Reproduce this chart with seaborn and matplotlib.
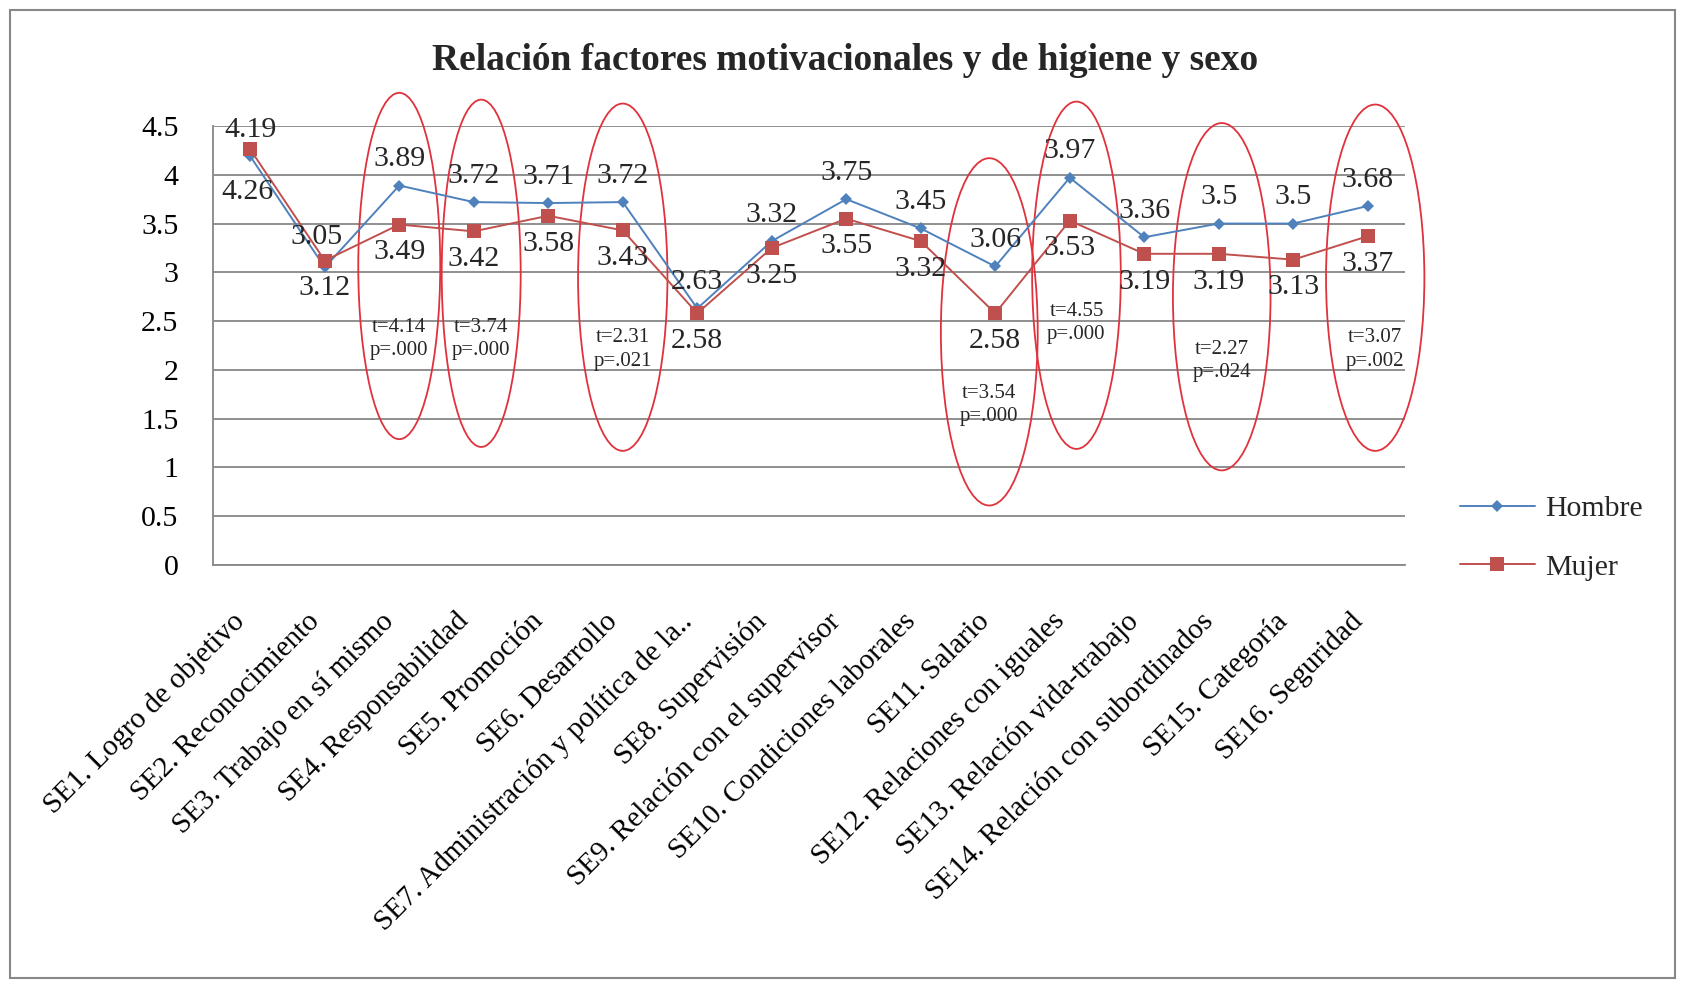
import numpy as np
import pandas as pd
import seaborn as sns
import matplotlib.pyplot as plt
from matplotlib.patches import Ellipse, Rectangle

# categorias del eje x
factores = ['SE1. Logro de objetivo', 'SE2. Reconocimiento',
            'SE3. Trabajo en sí mismo', 'SE4. Responsabilidad',
            'SE5. Promoción', 'SE6. Desarrollo',
            'SE7. Administración y política de la..', 'SE8. Supervisión',
            'SE9. Relación con el supervisor', 'SE10. Condiciones laborales',
            'SE11. Salario', 'SE12. Relaciones con iguales',
            'SE13. Relación vida-trabajo', 'SE14. Relación con subordinados',
            'SE15. Categoría', 'SE16. Seguridad']
hombre = [4.19, 3.05, 3.89, 3.72, 3.71, 3.72, 2.63, 3.32,
          3.75, 3.45, 3.06, 3.97, 3.36, 3.5, 3.5, 3.68]
mujer = [4.26, 3.12, 3.49, 3.42, 3.58, 3.43, 2.58, 3.25,
         3.55, 3.32, 2.58, 3.53, 3.19, 3.19, 3.13, 3.37]

# pruebas t marcadas con elipse
pruebas_idx = [2, 3, 5, 10, 11, 13, 15]
pruebas_txt = ['t=4.14\np=.000', 't=3.74\np=.000', 't=2.31\np=.021',
               't=3.54\np=.000', 't=4.55\np=.000', 't=2.27\np=.024',
               't=3.07\np=.002']

titulo = 'Relación factores motivacionales y de higiene y sexo'
y_ticks = [0, 0.5, 1, 1.5, 2, 2.5, 3, 3.5, 4, 4.5]

# geometria de las elipses (desplazamiento x, ancho, arriba, abajo)
elipse_geo = [(0.0, 1.10, 4.84, 1.29), (0.1, 1.06, 4.77, 1.21),
              (0.0, 1.20, 4.73, 1.17), (-0.08, 1.30, 4.17, 0.61),
              (0.09, 1.19, 4.75, 1.19), (0.04, 1.31, 4.53, 0.97),
              (0.1, 1.32, 4.72, 1.17)]
texto_y = [2.32, 2.32, 2.21, 1.64, 2.48, 2.09, 2.21]

# etiquetas movidas a mano en el original
ajuste_hombre = {1: (-6, 22)}
ajuste_mujer = {0: (-2, -31)}

AZUL = '#4F81BD'
ROJO = '#C0504D'
GRIS = '#878787'

sns.set_theme(style='white')
plt.rcParams['font.family'] = ['Liberation Serif', 'DejaVu Serif']

df = pd.DataFrame({
    'factor': factores * 2,
    'valor': hombre + mujer,
    'sexo': ['Hombre'] * len(factores) + ['Mujer'] * len(factores),
})

fig = plt.figure(figsize=(16.84, 9.84), dpi=100)
ax = fig.add_axes([213 / 1684, 1 - 565 / 984, (1405 - 213) / 1684,
                   (565 - 126) / 984])

sns.lineplot(data=df[df.sexo == 'Hombre'], x='factor', y='valor',
             color=AZUL, marker='D', markersize=6.5, markeredgewidth=0,
             linewidth=1.4, sort=False, ax=ax, label='Hombre')
sns.lineplot(data=df[df.sexo == 'Mujer'], x='factor', y='valor',
             color=ROJO, marker='s', markersize=10, markeredgewidth=0,
             linewidth=1.4, sort=False, ax=ax, label='Mujer')

ax.set_xlim(-0.5, len(factores) - 0.5)
ax.set_ylim(0, 4.5)
ax.set_yticks(y_ticks)
ax.set_yticklabels([f'{v:g}' for v in y_ticks])
ax.yaxis.grid(True, color=GRIS, linewidth=1.3)
ax.xaxis.grid(False)
ax.set_axisbelow(True)
for s in ['top', 'right']:
    ax.spines[s].set_visible(False)
for s in ['left', 'bottom']:
    ax.spines[s].set_color(GRIS)
    ax.spines[s].set_linewidth(1.3)
ax.set_xlabel('')
ax.set_ylabel('')
ax.tick_params(axis='y', length=0, pad=25, labelsize=21.5, colors='black')
ax.tick_params(axis='x', length=0, pad=31, labelsize=21, colors='black')
plt.setp(ax.get_xticklabels(), rotation=45, ha='right')

# etiquetas de datos
for i, v in enumerate(hombre):
    ax.annotate(f'{v:g}', (i, v), xytext=ajuste_hombre.get(i, (0, 19)),
                textcoords='offset points', ha='center', va='center',
                fontsize=21.5)
for i, v in enumerate(mujer):
    ax.annotate(f'{v:g}', (i, v), xytext=ajuste_mujer.get(i, (0, -20)),
                textcoords='offset points', ha='center', va='center',
                fontsize=21.5)

# elipses y pruebas t
for idx, txt, geo, ty in zip(pruebas_idx, pruebas_txt, elipse_geo, texto_y):
    dx, w, top, bot = geo
    e = Ellipse((idx + dx, (top + bot) / 2), w, top - bot, fill=False,
                edgecolor='#E0323C', linewidth=1.3, clip_on=False)
    ax.add_patch(e)
    ax.text(idx + dx, ty, txt, ha='center', va='center', fontsize=15,
            linespacing=1.3)

ax.get_legend().remove()
h, l = ax.get_legend_handles_labels()
fig.legend(h, l, loc='center left', bbox_to_anchor=(1460 / 1684, 1 - 538 / 984),
           frameon=False, fontsize=21.5, handlelength=2.5, labelspacing=1.05,
           handletextpad=0.35, borderpad=0, borderaxespad=0)

fig.text(0.502, 1 - 61 / 984, titulo, ha='center', va='center',
         fontsize=27, fontweight='bold')

fig.patches.append(Rectangle((10 / 1684, 6 / 984), 1665 / 1684, 968 / 984,
                             transform=fig.transFigure, fill=False,
                             edgecolor=GRIS, linewidth=1.5))

fig.savefig('out.png', dpi=100)
